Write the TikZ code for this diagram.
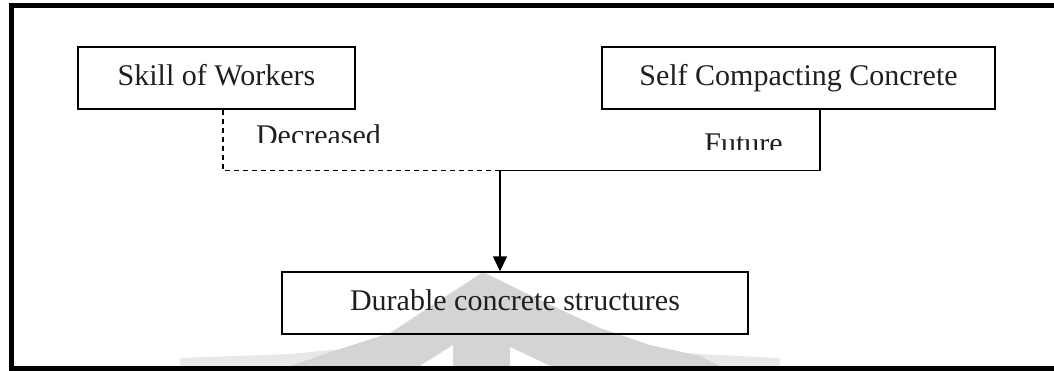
\documentclass[tikz,border=0pt]{standalone}
\usepackage{fontspec}
\setmainfont{Liberation Serif}
\usetikzlibrary{arrows.meta}
\begin{document}
\begin{tikzpicture}[x=1pt,y=-1pt,
  txt/.style={font=\fontsize{30}{36}\selectfont, text=black!88},
  box/.style={txt, draw, line width=1.4pt, rectangle, inner sep=0pt,
    minimum height=62pt, text height=21pt, text depth=6pt},
  lbl/.style={txt, inner sep=0pt, anchor=base},
  link/.style={line width=1.5pt, line join=miter},
  dashlink/.style={link, dash pattern=on 5pt off 4pt},
  frame/.style={line width=5pt, line join=miter},
  emblem/.style={fill=black!17, draw=none},
  emblemfaint/.style={fill=black!9, draw=none},
  gap/.style={fill=white, draw=none}]
\useasboundingbox (0,0) rectangle (1054,370);

% faint emblem behind the lower box
\fill[emblemfaint] (180,366) -- (180,358) -- (290,354) -- (330,350) -- (650,350)
  -- (700,354) -- (780,358) -- (780,366) -- cycle;
\fill[emblem] (483,272) -- (540,300) -- (600,328) -- (650,345) -- (700,356)
  -- (720,366) -- (290,366) -- (337,350) -- (390,333) -- cycle;
\fill[gap] (453,345) -- (453,366) -- (420,366) -- cycle;
\fill[gap] (510,347) -- (510,366) -- (550,366) -- cycle;

% outer frame: top, left and bottom rules
\draw[frame] (1054,5) -- (11,5) -- (11,368) -- (1054,368);

% boxes
\node[box, minimum width=277pt] (skill) at (216.5,78) {Skill of Workers};
\node[box, minimum width=393pt] (scc) at (798.5,78) {Self Compacting Concrete};
\node[box, minimum width=466pt] (durable) at (515,303) {Durable concrete structures};

% labels, cut off along their lower edge
\begin{scope}
  \clip (240,110) rectangle (400,142);
  \node[lbl] (dec) at (318.5,145) {Decreased};
\end{scope}
\begin{scope}
  \clip (690,110) rectangle (800,149);
  \node[lbl] (fut) at (743.5,153) {Future};
\end{scope}

% connectors
\coordinate (dk) at (223,170.5);
\coordinate (fk) at (820,170.5);
\coordinate (j) at (500,170.5);
\draw[dashlink] (skill.south -| dk) -- (dk) -- (j);
\draw[link] (scc.south -| fk) -- (fk) -- (j);
\draw[link, -{Triangle[length=15pt, width=14pt]}] (j) -- (durable.north -| j);
\end{tikzpicture}
\end{document}
